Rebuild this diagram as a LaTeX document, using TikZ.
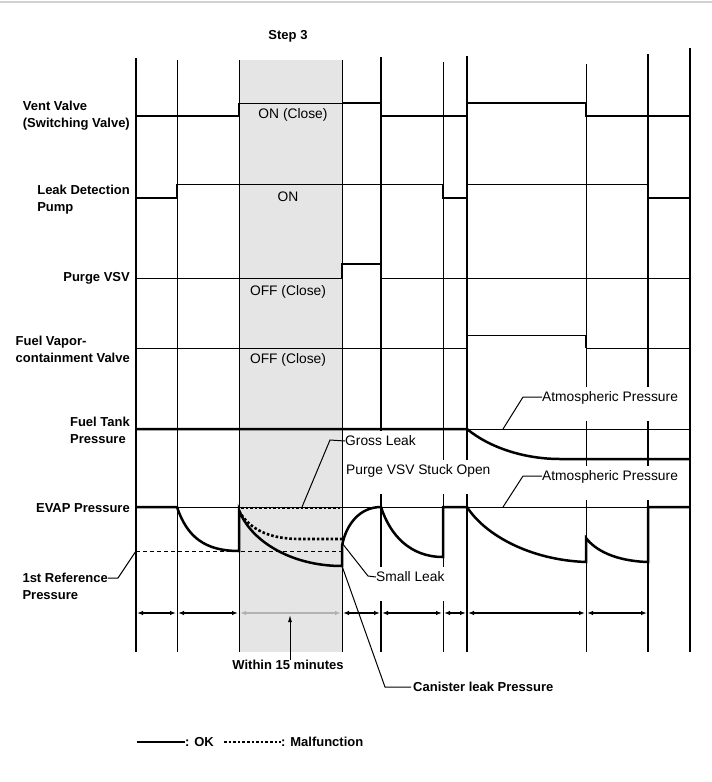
\documentclass[tikz,border=0pt]{standalone}
\usepackage{fontspec}
\setmainfont{Liberation Sans}
\usetikzlibrary{arrows.meta}

\begin{document}
\begin{tikzpicture}[x=1pt, y=-1pt,
    gridthick/.style={line width=2.3pt},
    gridthin/.style={line width=1pt},
    sigthick/.style={line width=2.5pt},
    sigthin/.style={line width=1pt},
    malf/.style={line width=2.6pt, dash pattern=on 2.6pt off 2pt},
    lead/.style={line width=1pt},
    dimline/.style={line width=2pt, {Latex[length=6pt,width=4.5pt]}-{Latex[length=6pt,width=4.5pt]}},
    rowlbl/.style={anchor=east, align=left, inner sep=0pt, font=\fontsize{13}{17}\selectfont\bfseries},
    boldlbl/.style={inner sep=0pt, font=\fontsize{13}{16}\selectfont\bfseries},
    chartlbl/.style={inner sep=0pt, font=\fontsize{13.8}{16}\selectfont},
    knock/.style={chartlbl, anchor=base west, fill=white, text height=14pt, text depth=20pt}]

  \useasboundingbox (0,0) rectangle (712,782);

  % Thin grey rule at the top
  \draw[line width=1.5pt, gray!35] (0,2) -- (712,2);

  % Step 3 window
  \fill[gray!20] (239,60) rectangle (342,652);
  \node[boldlbl] (step) at (288,36) {Step 3};

  % Time lines
  \foreach \x/\t in {136/58, 381/57, 467/56, 648/54, 690/48}
    \draw[gridthick] (\x,\t) -- (\x,652);
  \foreach \x/\t in {177/60, 239/60, 342/60, 443/62, 586/64}
    \draw[gridthin] (\x,\t) -- (\x,652);

  % Row labels
  \node[rowlbl] (vent) at (130,116) {Vent Valve\\(Switching Valve)};
  \node[rowlbl] (pump) at (130,200) {Leak Detection\\Pump};
  \node[rowlbl] (purge) at (130,278) {Purge VSV};
  \node[rowlbl] (cv) at (130,349) {Fuel Vapor-\\containment Valve};
  \node[rowlbl] (tank) at (130,430) {Fuel Tank\\Pressure};
  \node[rowlbl] (evap) at (130,508) {EVAP Pressure};
  \node[rowlbl, anchor=north east] (ref) at (108,573) {1st Reference\\Pressure};

  % States inside step 3
  \node[chartlbl] (ventst) at (293,115) {ON (Close)};
  \node[chartlbl] (pumpst) at (288,197) {ON};
  \node[chartlbl] (purgest) at (288,292) {OFF (Close)};
  \node[chartlbl] (cvst) at (288,360) {OFF (Close)};

  % Labels on white (they cut the time lines)
  \node[knock] (atm1) at (542,401) {Atmospheric Pressure};
  \node[knock] (atm2) at (542,480) {Atmospheric Pressure};
  \node[knock] (gross) at (345,445) {Gross Leak};
  \node[knock] (stuck) at (346,474) {Purge VSV Stuck Open};
  \node[knock] (small) at (376,581) {Small Leak};

  % Vent valve
  \draw[sigthick] (136,116) -- (239,116) -- (239,103);
  \draw[sigthin] (239,103) -- (342,103);
  \draw[sigthick] (342,103) -- (381,103) -- (381,116) -- (467,116) -- (467,103)
    -- (586,103) -- (586,116) -- (690,116);

  % Leak detection pump
  \draw[sigthick] (136,198) -- (177,198) -- (177,184);
  \draw[sigthin] (177,184) -- (443,184);
  \draw[sigthick] (443,184) -- (443,198) -- (467,198) -- (467,184);
  \draw[sigthin] (467,184) -- (648,184);
  \draw[sigthick] (648,184) -- (648,198) -- (690,198);

  % Purge VSV
  \draw[sigthin] (136,278) -- (342,278);
  \draw[sigthick] (342,278) -- (342,264) -- (381,264) -- (381,278);
  \draw[sigthin] (381,278) -- (690,278);

  % Fuel vapor-containment valve
  \draw[sigthin] (136,348) -- (467,348) -- (467,335) -- (586,335);
  \draw[sigthick] (586,335) -- (586,348);
  \draw[sigthin] (586,348) -- (690,348);

  % Fuel tank pressure
  \draw[sigthin] (467,429) -- (690,429);
  \draw[sigthick] (136,429) -- (467,429) .. controls (490,448) and (525,459) .. (560,459) -- (690,459);

  % EVAP pressure
  \draw[sigthin] (136,507) -- (690,507);
  \draw[sigthin, dash pattern=on 4pt off 3pt] (136,551) -- (342,551);
  \draw[malf] (241,508) -- (342,508);
  \draw[malf] (239,511) .. controls (250,530) and (270,539) .. (300,539) -- (342,539);
  \draw[sigthick] (136,507) -- (177,507) .. controls (187,537) and (205,551) .. (239,551) -- (239,510)
    .. controls (250,540) and (290,566) .. (342,566) -- (342,546)
    .. controls (346,524) and (360,507) .. (381,507)
    .. controls (390,535) and (410,557) .. (443,557) -- (443,507) -- (467,507)
    .. controls (485,535) and (530,560) .. (586,562) -- (586,538)
    .. controls (595,550) and (615,561) .. (648,562) -- (648,507) -- (690,507);

  % Leaders
  \coordinate (atm1pt) at (503,429);
  \coordinate (atm2pt) at (503,507);
  \coordinate (grosspt) at (302,507);
  \coordinate (smallpt) at (342,543);
  \coordinate (canpt) at (342,566);
  \coordinate (refpt) at (136,551);
  \coordinate (refy) at (0,578);
  \draw[lead] (atm1pt) -- (523,397) -- ([yshift=4pt]atm1.base west);
  \draw[lead] (atm2pt) -- (523,476) -- ([yshift=4pt]atm2.base west);
  \draw[lead] (grosspt) -- (330,440) -- ([yshift=4pt]gross.base west);
  \draw[lead] (smallpt) -- (368,576) -- ([yshift=4pt]small.base west);
  \draw[lead] (refpt) -- (118,578) -- (ref.east |- refy);
  \node[boldlbl, anchor=west] (canister) at (413,687) {Canister leak Pressure};
  \draw[lead] (canpt) -- (385,687) -- ([xshift=-2pt]canister.west);

  % Time spans
  \foreach \a/\b in {136/177, 177/239, 342/381, 381/443, 443/467, 467/586, 586/648}
    \draw[dimline] ({\a+1},613) -- ({\b-1},613);
  \draw[dimline, gray!60] (240,613) -- (341,613);
  \node[boldlbl] (within) at (288,665) {Within 15 minutes};
  \draw[lead, -{Latex[length=7pt,width=4pt]}] ([xshift=2pt]within.north) -- (290,615);

  % Legend
  \node[boldlbl, anchor=west] (ok) at (185,742) {: OK};
  \node[boldlbl, anchor=west] (bad) at (281,742) {: Malfunction};
  \draw[sigthick] (137,742) -- (ok.west);
  \draw[malf] (224,742) -- (bad.west);

\end{tikzpicture}
\end{document}
